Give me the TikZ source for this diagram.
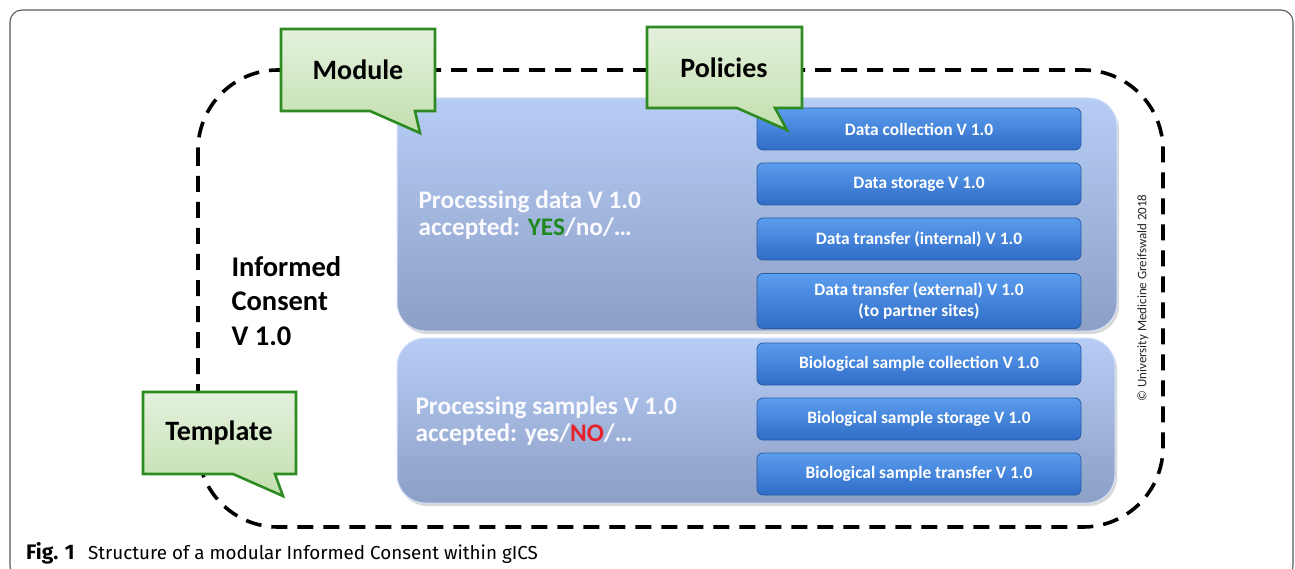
\documentclass[tikz,border=0pt]{standalone}
\usepackage{fontspec}
\setmainfont{Carlito}
\newfontfamily\capfont{Fira Sans}
\usetikzlibrary{calc}
\definecolor{cgreen}{HTML}{2E8B22}
\definecolor{ctop}{HTML}{E4F1DD}
\definecolor{cbot}{HTML}{C2DFAE}
\definecolor{ptop}{HTML}{B7CDF5}
\definecolor{pbot}{HTML}{8C9FC6}
\definecolor{btop}{HTML}{5B9DEE}
\definecolor{bbot}{HTML}{2F6CC6}
\definecolor{bedge}{HTML}{2A5CA2}
\definecolor{yesgreen}{HTML}{1E8A1E}
\definecolor{nored}{HTML}{E8202A}
\tikzset{
  frame/.style={draw=black!65, line width=1.1pt, rounded corners=12},
  loop/.style={draw=black, line width=3.6pt, dash pattern=on 16pt off 10pt, rounded corners=80},
  callout/.style={draw=cgreen, line width=2.6pt, line join=miter, top color=ctop, bottom color=cbot},
  calltext/.style={font=\fontsize{28}{32}\selectfont\bfseries, text=black},
  panel/.style={draw=ptop!60!white, line width=1pt, rounded corners=28, top color=ptop, bottom color=pbot},
  pshadow/.style={fill=black!30, opacity=0.5, rounded corners=28},
  policy/.style={draw=bedge, line width=0.8pt, rounded corners=6, top color=btop, bottom color=bbot,
    minimum width=324pt, minimum height=42pt, text=white, align=center,
    font=\fontsize{17.4}{21}\selectfont\bfseries, inner sep=0pt},
  ptext/.style={text=white!98!blue, align=left, anchor=west, font=\fontsize{25.3}{27.5}\selectfont\bfseries},
}
\begin{document}
\begin{tikzpicture}[x=1pt,y=-1pt]
\useasboundingbox (0,0) rectangle (1295,569);
\begin{scope}
  \clip (0,0) rectangle (1295,569);
  \draw[frame] (10,10) rectangle (1293,578);
\end{scope}
% dashed template loop
\draw[loop] (198,70) rectangle (1163,527);
% panels
\fill[pshadow] (399,101) rectangle (1119,334);
\fill[pshadow] (399,341) rectangle (1117,506);
\path[panel] (397,98) rectangle (1117,331);
\path[panel] (397,338) rectangle (1115,503);
\node[ptext] (pdata) at (415,215) {Processing data V 1.0\\accepted: \textcolor{yesgreen}{YES}/no/…};
\node[ptext] (psamp) at (412,421) {Processing samples V 1.0\\accepted: yes/\textcolor{nored}{NO}/…};
% policies
\node[policy] (d1) at (919,129) {Data collection V 1.0};
\node[policy] (d2) at (919,184) {Data storage V 1.0};
\node[policy] (d3) at (919,239) {Data transfer (internal) V 1.0};
\node[policy, minimum height=55pt] (d4) at (919,301) {Data transfer (external) V 1.0\\(to partner sites)};
\node[policy] (b1) at (919,364) {Biological sample collection V 1.0};
\node[policy] (b2) at (919,419) {Biological sample storage V 1.0};
\node[policy] (b3) at (919,474) {Biological sample transfer V 1.0};
% informed consent
\node[anchor=west, align=left, font=\fontsize{28.5}{34.5}\selectfont\bfseries] (ic) at (228,301) {Informed\\Consent\\V 1.0};
% copyright
\node[rotate=90, font=\fontsize{13}{15}\selectfont, text=black!85] (copy) at (1143,298) {© University Medicine Greifswald 2018};
% callouts
\draw[callout] (281,29) -- (435,29) -- (435,111) -- (415,111) -- (420,133) -- (370,111) -- (281,111) -- cycle;
\node[calltext] (module) at (358,70) {Module};
\draw[callout] (647,27) -- (802,27) -- (802,108) -- (775,108) -- (787,130) -- (737,108) -- (647,108) -- cycle;
\node[calltext] (policies) at (724,68) {Policies};
\draw[callout] (143,392) -- (296,392) -- (296,474) -- (275,474) -- (283,496) -- (233,474) -- (143,474) -- cycle;
\node[calltext] (template) at (219,433) {Template};
% caption
\node[anchor=base west, inner sep=0pt, font=\capfont\fontsize{21}{24}\selectfont\bfseries] (fig) at (26,559) {Fig. 1};
\node[anchor=base west, inner sep=0pt, font=\capfont\fontsize{18.8}{22}\selectfont] (cap) at (88,559) {Structure of a modular Informed Consent within gICS};
\end{tikzpicture}
\end{document}
